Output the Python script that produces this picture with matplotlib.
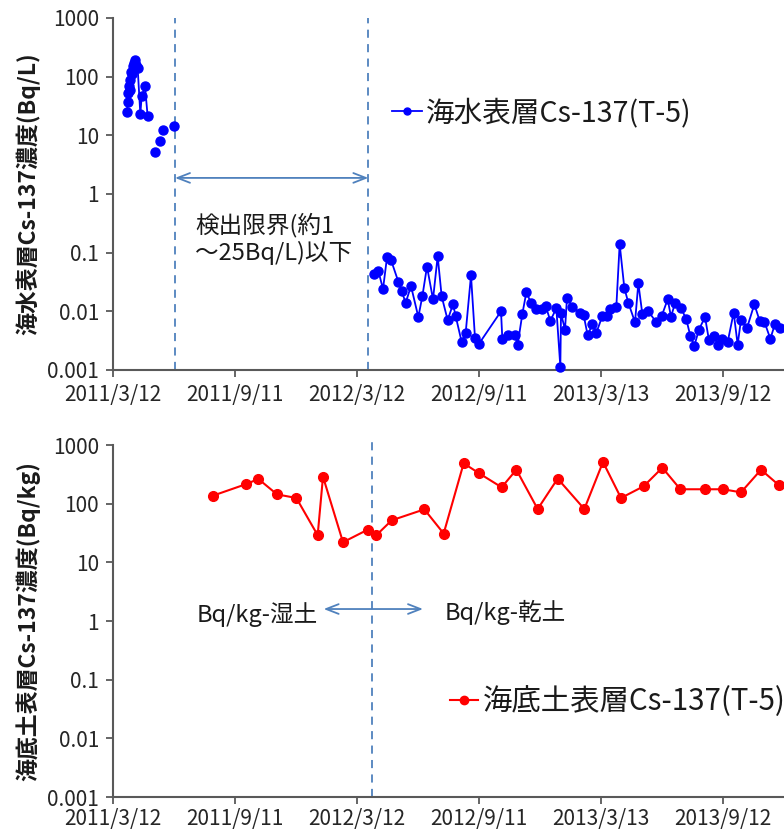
import matplotlib
matplotlib.use("Agg")
import matplotlib.pyplot as plt
import pandas as pd
from matplotlib.lines import Line2D

plt.rcParams['font.family'] = ['Noto Sans CJK JP', 'DejaVu Sans']

START = pd.Timestamp("2011-03-12")

# --- surface seawater Cs-137 (T-5), Bq/L; x = days after 2011/3/12 ---
sea_cluster_days = [21, 22, 23, 24, 25, 26, 27, 28, 30, 31, 33, 35, 37, 41, 43, 48, 52]
sea_cluster_vals = [25, 37, 52, 68, 88, 60, 120, 110, 150, 170, 190, 160, 140, 23, 46, 68, 21]

sea_sparse_days = [63, 71, 75, 92]
sea_sparse_vals = [5.2, 8.1, 12.5, 14.5]

sea_late_days = [391, 398, 405, 411, 417, 428, 433, 439, 447, 458, 464, 471, 480, 487, 493,
                 502, 510, 514, 523, 529, 537, 543, 549, 582, 584, 593, 603, 607, 614, 620,
                 627, 635, 643, 649, 656, 665, 671, 672, 678, 681, 689, 700, 706, 712, 719,
                 725, 734, 741, 745, 755, 760, 767, 773, 783, 788, 794, 803, 815, 823, 832,
                 837, 843, 852, 860, 866, 872, 879, 888, 894, 901, 908, 914, 922, 931, 937,
                 942, 951, 962, 970, 977, 986, 993, 1001]
sea_late_vals = [0.043, 0.049, 0.024, 0.083, 0.075, 0.032, 0.022, 0.014, 0.027, 0.008,
                 0.018, 0.058, 0.016, 0.087, 0.018, 0.0071, 0.0132, 0.0083, 0.0030, 0.0043,
                 0.041, 0.0035, 0.0028, 0.010, 0.0034, 0.0039, 0.0039, 0.0027, 0.009, 0.021,
                 0.014, 0.011, 0.011, 0.0123, 0.0069, 0.0113, 0.00114, 0.0092, 0.0049, 0.017,
                 0.012, 0.0095, 0.0086, 0.0039, 0.006, 0.0043, 0.0083, 0.0083, 0.011, 0.012,
                 0.14, 0.025, 0.014, 0.0065, 0.030, 0.0090, 0.010, 0.0065, 0.0083, 0.016,
                 0.0081, 0.0137, 0.0114, 0.0073, 0.0038, 0.0026, 0.0049, 0.008, 0.0032, 0.0038,
                 0.0027, 0.0034, 0.0030, 0.0095, 0.0027, 0.0072, 0.0052, 0.0132, 0.0069, 0.0067,
                 0.0034, 0.0061, 0.0052]

# --- seabed sediment surface Cs-137 (T-5), Bq/kg ---
soil_days = [150, 200, 218, 246, 275, 307, 315, 345, 382, 395, 418, 467, 496, 526, 549,
             583, 605, 637, 667, 707, 735, 762, 796, 824, 851, 888, 915, 942, 972, 999]
soil_vals = [137, 216, 264, 144, 125, 29, 288, 22, 36, 29, 52, 80, 31, 488, 330,
             190, 379, 81, 267, 81, 513, 125, 198, 410, 176, 176, 176, 156, 379, 206]

# detection-limit period and unit-change boundaries (days after start)
sea_limit_days = [93, 383]
soil_change_day = 389

tick_days = [0, 183, 366, 549, 732, 915]
tick_labels = ["2011/3/12", "2011/9/11", "2012/3/12", "2012/9/11", "2013/3/13", "2013/9/12"]
ytick_vals = [0.001, 0.01, 0.1, 1, 10, 100, 1000]
ytick_labels = ["0.001", "0.01", "0.1", "1", "10", "100", "1000"]


def to_dates(days):
    return START + pd.to_timedelta(days, unit="D")


BLUE = "#0000FF"
RED = "#FF0000"
GUIDE = "#4F81BD"
SPINE = "#595959"

fig = plt.figure(figsize=(7.84, 8.32), dpi=100)
ax1 = fig.add_axes([113 / 784, 1 - 370 / 832, 671 / 784, 352 / 832])
ax2 = fig.add_axes([113 / 784, 1 - 797 / 832, 671 / 784, 352 / 832])

x_end = START + pd.Timedelta(days=1006.5)

for ax, xpad in ((ax1, 5), (ax2, 3)):
    ax.set_yscale("log")
    ax.set_ylim(0.001, 1000)
    ax.set_xlim(START, x_end)
    ax.set_yticks(ytick_vals)
    ax.set_yticklabels(ytick_labels)
    ax.minorticks_off()
    ax.set_xticks(to_dates(tick_days))
    ax.set_xticklabels(tick_labels)
    ax.tick_params(axis="both", direction="out", length=5, width=1.3, color=SPINE,
                   labelsize=15, labelcolor="#262626", pad=5)
    ax.tick_params(axis="x", pad=xpad)
    for side in ("top", "right"):
        ax.spines[side].set_visible(False)
    for side in ("left", "bottom"):
        ax.spines[side].set_color(SPINE)
        ax.spines[side].set_linewidth(1.5)

# top panel: seawater
mk = dict(marker="o", markersize=6.5, color=BLUE, markerfacecolor=BLUE,
          markeredgecolor=BLUE, lw=1.3, clip_on=False, zorder=3)
ax1.plot(to_dates(sea_cluster_days), sea_cluster_vals, **mk)
ax1.plot(to_dates(sea_sparse_days), sea_sparse_vals, ls="none",
         **{k: v for k, v in mk.items() if k != "lw"})
ax1.plot(to_dates(sea_late_days), sea_late_vals, **mk)

for d in sea_limit_days:
    ax1.axvline(START + pd.Timedelta(days=d), color=GUIDE, lw=1.3, ls=(0, (4.5, 3.5)), zorder=2)

ax1.annotate("", xy=(START + pd.Timedelta(days=sea_limit_days[0]), 1.88),
             xytext=(START + pd.Timedelta(days=sea_limit_days[1]), 1.88),
             arrowprops=dict(arrowstyle="<->,head_length=0.9,head_width=0.35",
                             color=GUIDE, lw=1.3, shrinkA=0, shrinkB=0))
ax1.text(START + pd.Timedelta(days=123), 0.30, "検出限界(約1", fontsize=17,
         ha="left", va="center", color="#1a1a1a")
ax1.text(START + pd.Timedelta(days=123), 0.10, "～25Bq/L)以下", fontsize=17,
         ha="left", va="center", color="#1a1a1a")

ax1.set_ylabel("海水表層Cs-137濃度(Bq/L)", fontsize=16.5, fontweight="bold", color="#1a1a1a")
ax1.yaxis.set_label_coords(-0.108, 0.5)

h1 = Line2D([], [], marker="o", markersize=5, color=BLUE, lw=1.3)
ax1.legend([h1], ["海水表層Cs-137(T-5)"], loc="center left",
           bbox_to_anchor=((392 - 113) / 671, 1 - (113 - 18) / 352),
           frameon=False, fontsize=20.6, handlelength=1.05, handletextpad=0.15,
           borderpad=0, borderaxespad=0, labelcolor="#1a1a1a")

# bottom panel: seabed sediment
ax2.plot(to_dates(soil_days), soil_vals, marker="o", markersize=7, color=RED,
         markerfacecolor=RED, markeredgecolor=RED, lw=1.5, clip_on=False, zorder=3)

ax2.axvline(START + pd.Timedelta(days=soil_change_day), ymax=1.015, color=GUIDE, lw=1.3,
            ls=(0, (4.5, 3.5)), zorder=2, clip_on=False)
ax2.annotate("", xy=(START + pd.Timedelta(days=316), 1.6),
             xytext=(START + pd.Timedelta(days=465), 1.6),
             arrowprops=dict(arrowstyle="<->,head_length=0.9,head_width=0.35",
                             color=GUIDE, lw=1.3, shrinkA=0, shrinkB=0))
ax2.text(START + pd.Timedelta(days=307), 1.3, "Bq/kg-湿土", fontsize=17,
         ha="right", va="center", color="#1a1a1a")
ax2.text(START + pd.Timedelta(days=498), 1.4, "Bq/kg-乾土", fontsize=17,
         ha="left", va="center", color="#1a1a1a")

ax2.set_ylabel("海底土表層Cs-137濃度(Bq/kg)", fontsize=16.5, fontweight="bold", color="#1a1a1a")
ax2.yaxis.set_label_coords(-0.108, 0.5)

h2 = Line2D([], [], marker="o", markersize=6, color=RED, lw=1.5)
ax2.legend([h2], ["海底土表層Cs-137(T-5)"], loc="center left",
           bbox_to_anchor=((450 - 113) / 671, 1 - (702 - 445) / 352),
           frameon=False, fontsize=21.2, handlelength=0.95, handletextpad=0.15,
           borderpad=0, borderaxespad=0, labelcolor="#1a1a1a")

fig.savefig("out.png", dpi=100)
